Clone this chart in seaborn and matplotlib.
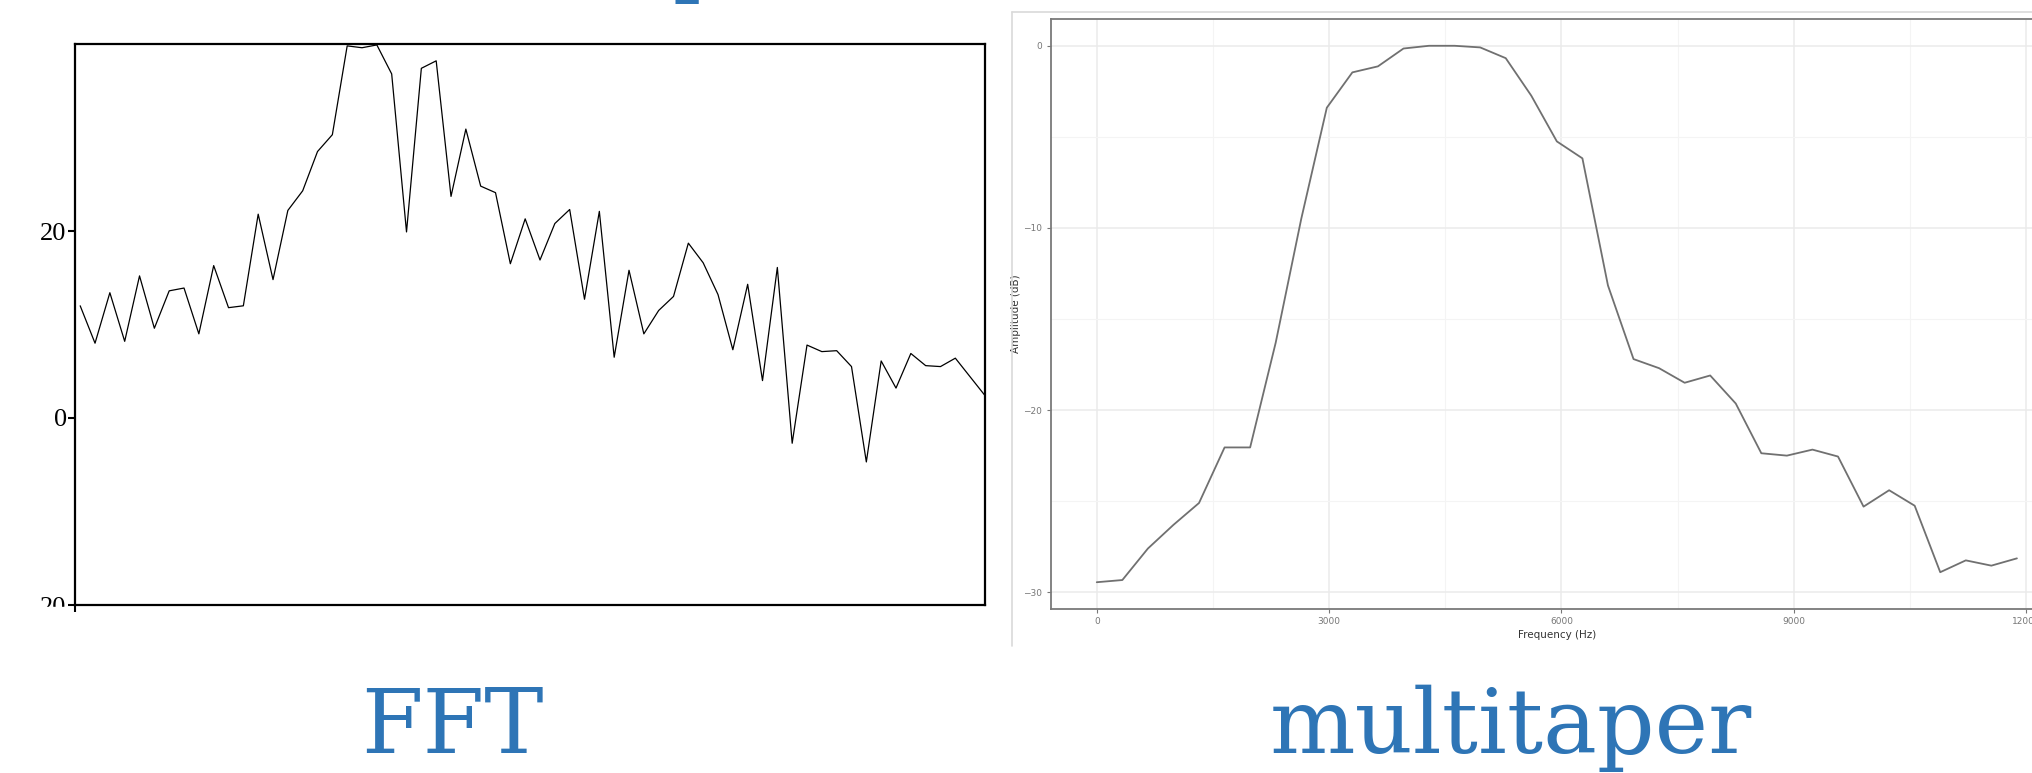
import numpy as np
import pandas as pd
import seaborn as sns
import matplotlib.pyplot as plt
from matplotlib.patches import Rectangle
from matplotlib.lines import Line2D

# FFT spectrum (dB), one value per bin
fft_db = [12.0, 8.0, 13.4, 8.2, 15.2, 9.6, 13.6, 13.9, 9.0, 16.3,
          11.8, 12.0, 21.8, 14.8, 22.2, 24.3, 28.5, 30.3, 39.8, 39.6,
          39.9, 36.8, 19.9, 37.4, 38.2, 23.7, 30.9, 24.8, 24.1, 16.5,
          21.3, 16.9, 20.8, 22.3, 12.7, 22.1, 6.5, 15.8, 9.0, 11.5,
          13.0, 18.7, 16.6, 13.2, 7.3, 14.3, 4.0, 16.1, -2.7, 7.8,
          7.1, 7.2, 5.5, -4.7, 6.1, 3.2, 6.9, 5.6, 5.5, 6.4,
          4.4, 2.4]
fft_bin = list(range(len(fft_db)))
fft_ytick_labels = ["20", "0", "20"]

# multitaper spectrum
mt_freq = [0, 330, 660, 990, 1320, 1650, 1980, 2310, 2640, 2970,
           3300, 3630, 3960, 4290, 4620, 4950, 5280, 5610, 5940, 6270,
           6600, 6930, 7260, 7590, 7920, 8250, 8580, 8910, 9240, 9570,
           9900, 10230, 10560, 10890, 11220, 11550, 11880]
mt_db = [-29.45, -29.33, -27.6, -26.3, -25.1, -22.05, -22.05, -16.3, -9.5, -3.4,
         -1.46, -1.13, -0.15, 0.0, 0.0, -0.09, -0.68, -2.74, -5.25, -6.18,
         -13.16, -17.2, -17.7, -18.5, -18.1, -19.64, -22.37, -22.5, -22.17, -22.55,
         -25.3, -24.4, -25.25, -28.9, -28.25, -28.54, -28.14]

titles = ["FFT", "multitaper"]

fft_df = pd.DataFrame({"bin": fft_bin, "db": fft_db})
mt_df = pd.DataFrame({"freq": mt_freq, "db": mt_db})

sns.set_style("white")
plt.rcParams["font.family"] = ["DejaVu Sans"]

W, H = 2033, 773
fig = plt.figure(figsize=(W / 100, H / 100), dpi=100)
blue = "#2E75B6"

# ---------- left: FFT ----------
ax1 = fig.add_axes([75 / W, 1 - 605 / H, 910 / W, 561 / H])
sns.lineplot(data=fft_df, x="bin", y="db", ax=ax1, color="black", lw=0.9)
ax1.set_xlim(-0.35, 61)
ax1.set_ylim(-20, 40)
ax1.set_yticks([-20, 0, 20])
ax1.set_yticklabels(fft_ytick_labels, family="Liberation Serif", fontsize=19)
ax1.set_xticks([-0.35])
ax1.set_xticklabels([""])
ax1.set_xlabel("")
ax1.set_ylabel("")
for s in ax1.spines.values():
    s.set_color("black")
    s.set_linewidth(1.6)
ax1.tick_params(axis="both", direction="out", length=5, width=1.5, pad=1,
                left=True, bottom=True, colors="black")

# white strip hides the lower half of the bottom tick label
fig.add_artist(Rectangle((0, 0), 72 / W, (H - 607) / H, transform=fig.transFigure,
                         color="white", zorder=10))

# ---------- right: multitaper (ggplot look) ----------
ax2 = fig.add_axes([1050.7 / W, 1 - 609 / H, 1012.3 / W, 590 / H])
ax2.set_axisbelow(True)
sns.lineplot(data=mt_df, x="freq", y="db", ax=ax2, color="#707070", lw=1.3)
ax2.set_xlim(-595, 12475)
ax2.set_ylim(-30.92, 1.47)
ax2.set_xticks([0, 3000, 6000, 9000, 12000])
ax2.set_xticks([1500, 4500, 7500, 10500], minor=True)
ax2.set_yticks([0, -10, -20, -30])
ax2.set_yticks([-5, -15, -25], minor=True)
ax2.grid(which="major", color="#EBEBEB", lw=1.1)
ax2.grid(which="minor", color="#F4F4F4", lw=0.8)
for s in ax2.spines.values():
    s.set_color("#7a7a7a")
    s.set_linewidth(1.3)
ax2.tick_params(axis="both", which="major", direction="out", length=3, width=0.8,
                colors="#777777", labelsize=6.5, pad=3, left=True, bottom=True)
ax2.tick_params(axis="both", which="minor", length=0)
ax2.set_xlabel("Frequency (Hz)", fontsize=7.5, color="#333333", labelpad=3)
ax2.set_ylabel("Amplitude (dB)", fontsize=7.5, color="#333333", labelpad=2)

# light border of the pasted screenshot
fig.add_artist(Line2D([1012.5 / W, 1012.5 / W], [1 - 12 / H, 1 - 646 / H],
                      transform=fig.transFigure, color="#D9D9D9", lw=1.2))
fig.add_artist(Line2D([1012.5 / W, 1.0], [1 - 12 / H, 1 - 12 / H],
                      transform=fig.transFigure, color="#D9D9D9", lw=1.2))

# ---------- slide captions ----------
fig.text(452 / W, 1 - 753 / H, titles[0], ha="center", va="baseline",
         family="DejaVu Serif", fontsize=64, color=blue)
fig.text(1511 / W, 1 - 753 / H, titles[1], ha="center", va="baseline",
         family="DejaVu Serif", fontsize=65, color=blue)
# descender of the slide heading, cut off by the top edge
fig.text(673 / W, 1 + 15 / H, "p", ha="left", va="baseline",
         family="DejaVu Serif", fontsize=64, color=blue)

fig.savefig("out.png", dpi=100)
